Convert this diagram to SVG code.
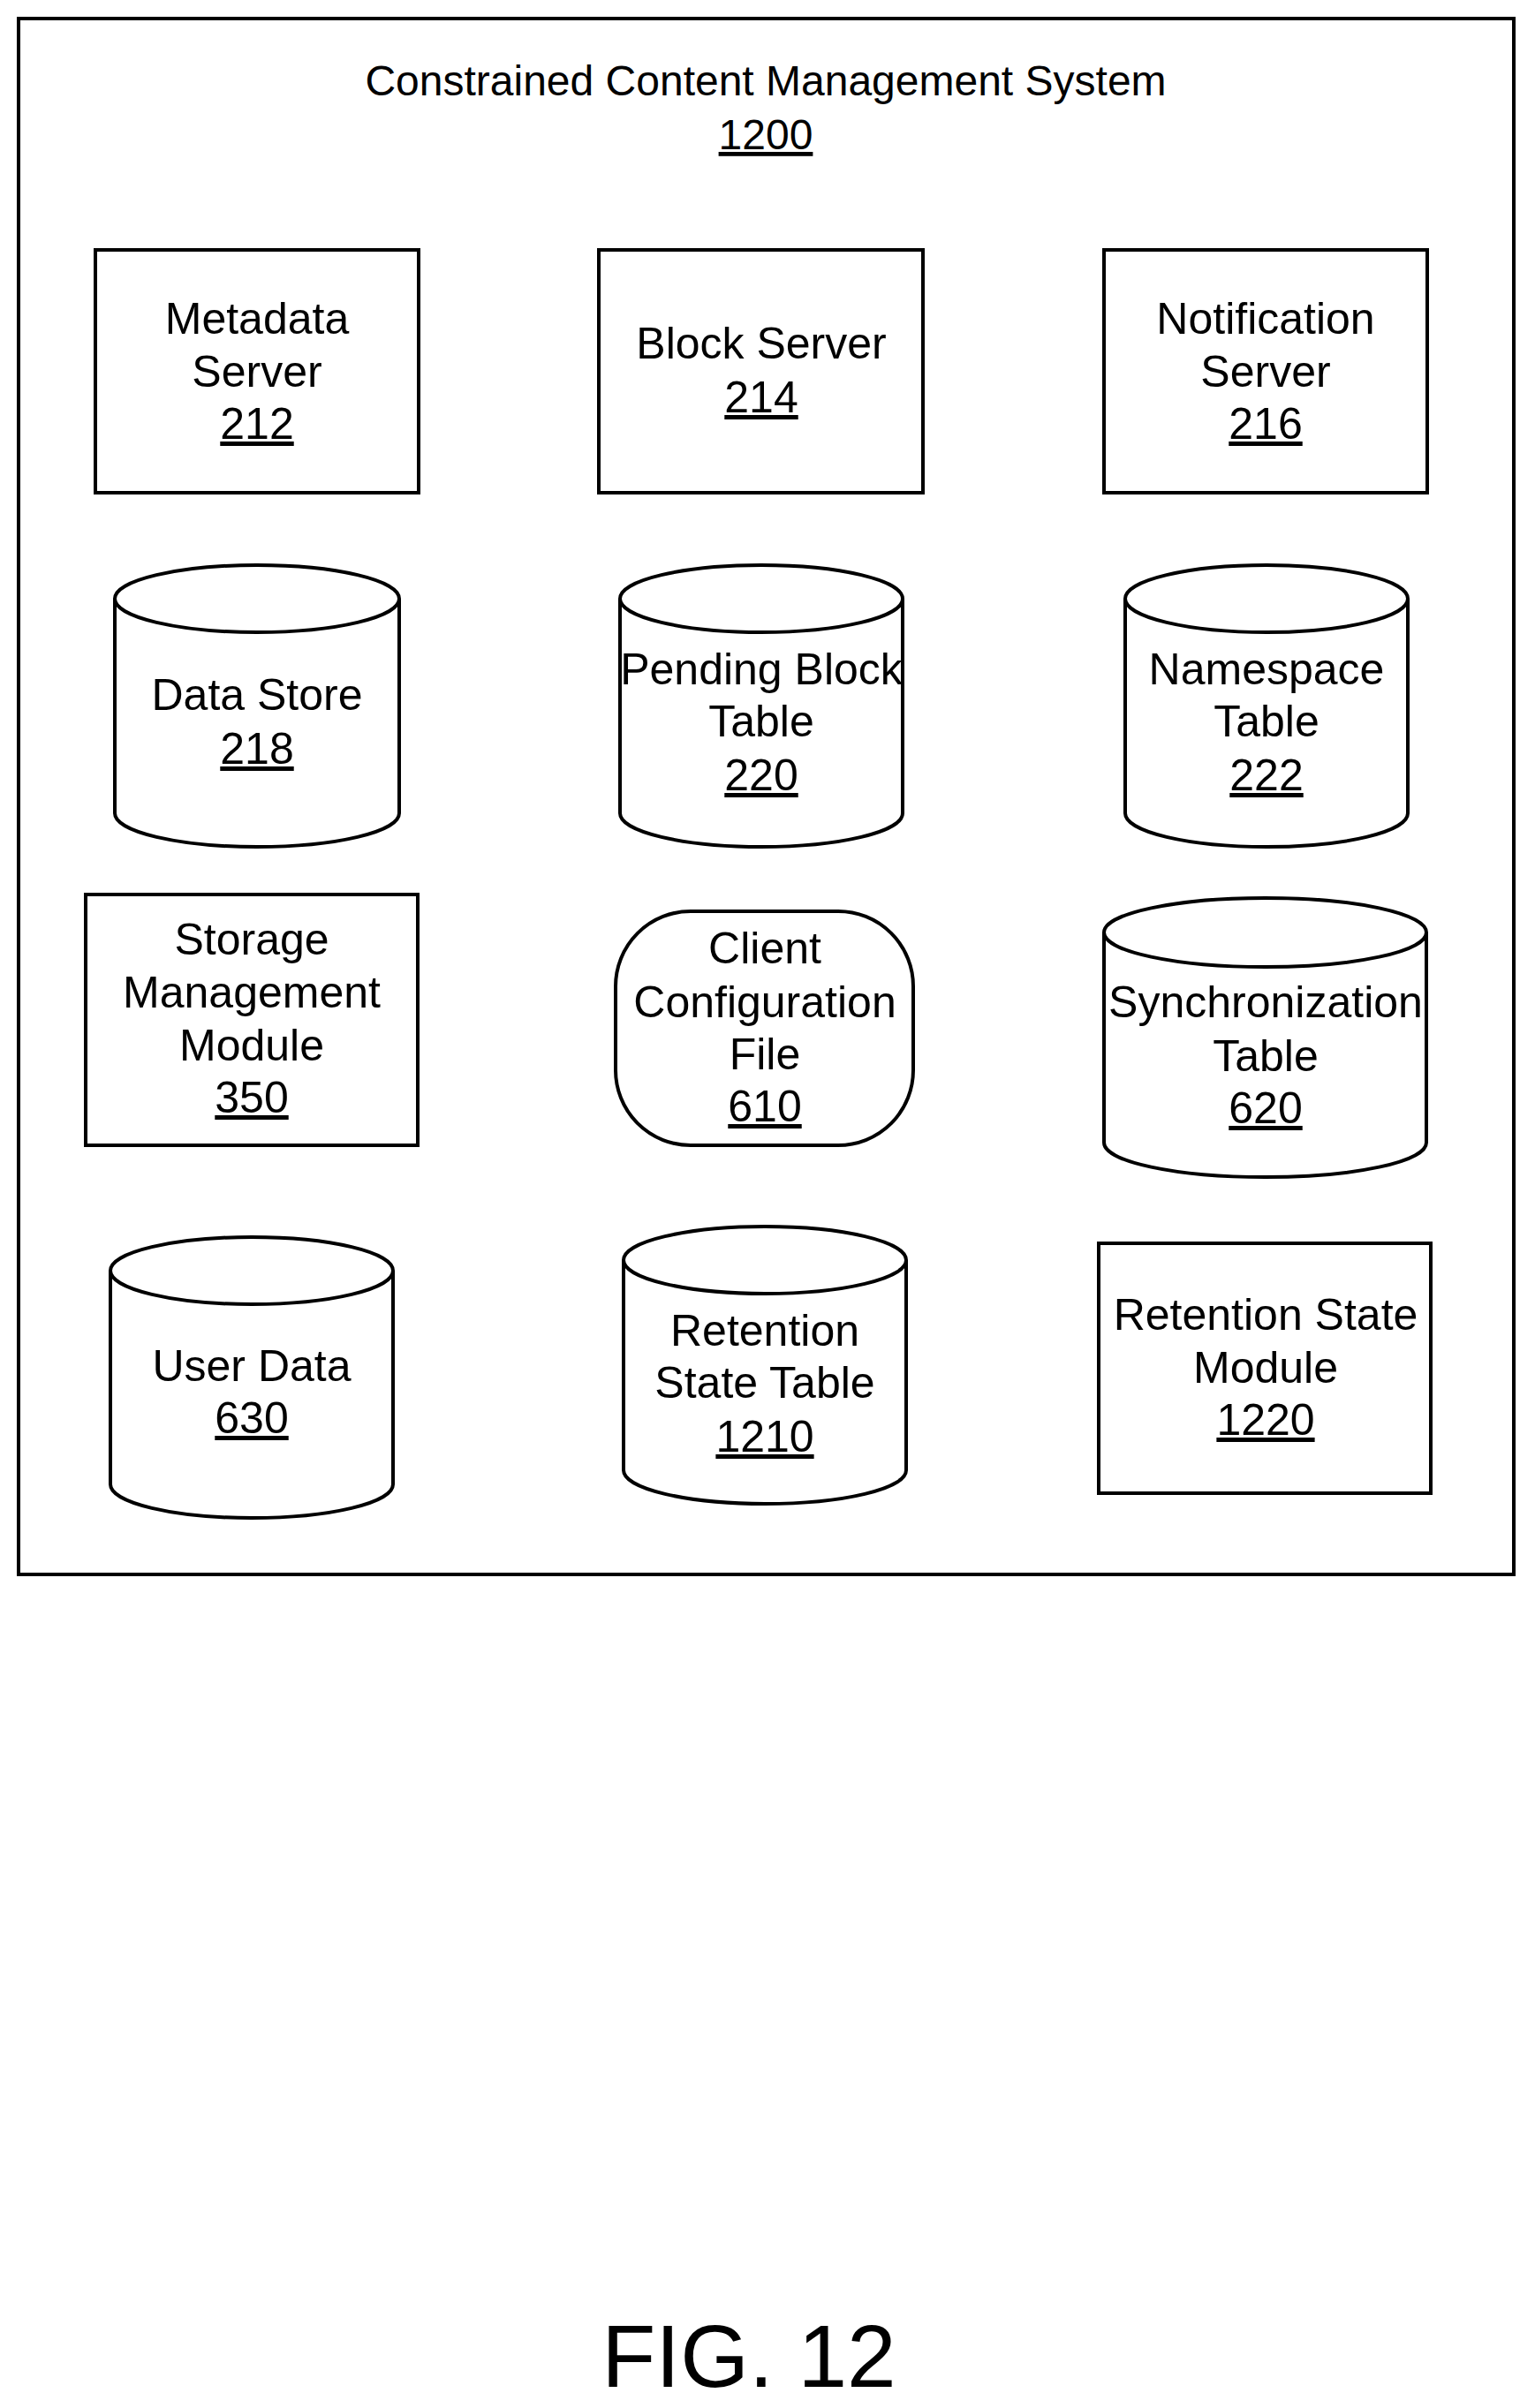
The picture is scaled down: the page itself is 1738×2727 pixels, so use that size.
<svg xmlns="http://www.w3.org/2000/svg" width="1738" height="2727" viewBox="0 0 1738 2727">
<style>
.b{fill:#fff;stroke:#000;stroke-width:4}
.e{fill:none;stroke:#000;stroke-width:4}
text{font-family:"Liberation Sans",Arial,sans-serif;font-size:50px;text-anchor:middle;fill:#000}
.u{text-decoration:underline}
.t{font-size:48px}
.f{font-size:100px}
</style>
<rect width="1738" height="2727" fill="#fff"/>
<g id="system">
<rect class="e" x="21" y="21" width="1693" height="1762"/>
<text x="867" y="108" class="t">Constrained Content Management System</text>
<text x="867" y="169" class="u t">1200</text>
</g>
<g id="n212"><rect class="b" x="108" y="283" width="366" height="275"/>
<text x="291" y="378">Metadata</text><text x="291" y="438">Server</text><text x="291" y="497" class="u">212</text></g>
<g id="n214"><rect class="b" x="678" y="283" width="367" height="275"/>
<text x="862" y="406">Block Server</text><text x="862" y="467" class="u">214</text></g>
<g id="n216"><rect class="b" x="1250" y="283" width="366" height="275"/>
<text x="1433" y="378">Notification</text><text x="1433" y="438">Server</text><text x="1433" y="497" class="u">216</text></g>
<g id="n218"><path class="b" d="M130 678 A161 38 0 0 1 452 678 V921 A161 38 0 0 1 130 921 Z"/><path class="e" d="M130 678 A161 38 0 0 0 452 678"/>
<text x="291" y="804">Data Store</text><text x="291" y="865" class="u">218</text></g>
<g id="n220"><path class="b" d="M702 678 A160 38 0 0 1 1022 678 V921 A160 38 0 0 1 702 921 Z"/><path class="e" d="M702 678 A160 38 0 0 0 1022 678"/>
<text x="862" y="775">Pending Block</text><text x="862" y="834">Table</text><text x="862" y="895" class="u">220</text></g>
<g id="n222"><path class="b" d="M1274 678 A160 38 0 0 1 1594 678 V921 A160 38 0 0 1 1274 921 Z"/><path class="e" d="M1274 678 A160 38 0 0 0 1594 678"/>
<text x="1434" y="775">Namespace</text><text x="1434" y="834">Table</text><text x="1434" y="895" class="u">222</text></g>
<g id="n350"><rect class="b" x="97" y="1013" width="376" height="284"/>
<text x="285" y="1081">Storage</text><text x="285" y="1141">Management</text><text x="285" y="1201">Module</text><text x="285" y="1260" class="u">350</text></g>
<g id="n610"><rect class="b" x="697" y="1032" width="337" height="265" rx="85"/>
<text x="866" y="1091">Client</text><text x="866" y="1152">Configuration</text><text x="866" y="1211">File</text><text x="866" y="1270" class="u">610</text></g>
<g id="n620"><path class="b" d="M1250 1056 A182 39 0 0 1 1615 1056 V1294 A182 39 0 0 1 1250 1294 Z"/><path class="e" d="M1250 1056 A182 39 0 0 0 1615 1056"/>
<text x="1433" y="1152">Synchronization</text><text x="1433" y="1213">Table</text><text x="1433" y="1272" class="u">620</text></g>
<g id="n630"><path class="b" d="M125 1439 A160 38 0 0 1 445 1439 V1681 A160 38 0 0 1 125 1681 Z"/><path class="e" d="M125 1439 A160 38 0 0 0 445 1439"/>
<text x="285" y="1564">User Data</text><text x="285" y="1623" class="u">630</text></g>
<g id="n1210"><path class="b" d="M706 1427 A160 38 0 0 1 1026 1427 V1665 A160 38 0 0 1 706 1665 Z"/><path class="e" d="M706 1427 A160 38 0 0 0 1026 1427"/>
<text x="866" y="1524">Retention</text><text x="866" y="1583">State Table</text><text x="866" y="1644" class="u">1210</text></g>
<g id="n1220"><rect class="b" x="1244" y="1408" width="376" height="283"/>
<text x="1433" y="1506">Retention State</text><text x="1433" y="1566">Module</text><text x="1433" y="1625" class="u">1220</text></g>
<g id="connectors"></g>
<text x="848" y="2703" class="f">FIG. 12</text>
</svg>
